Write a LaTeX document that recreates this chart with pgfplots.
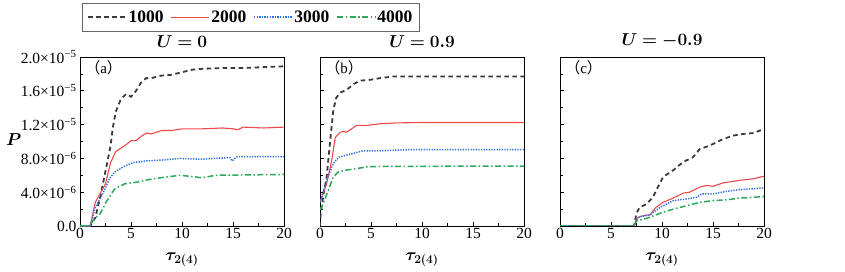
\documentclass[border=0pt]{standalone}
\usepackage{pgfplots}
\pgfplotsset{compat=1.18}
\usepackage{bm}
\usepackage{fontspec}
\setmainfont{Liberation Serif}
\newfontfamily\cjk{Noto Sans CJK SC}
\definecolor{cA}{HTML}{3A3A3A}
\definecolor{cB}{HTML}{F04848}
\definecolor{cC}{HTML}{2F6FE6}
\definecolor{cD}{HTML}{2EA85C}
\newcommand{\fs}{\fontsize{15.5}{17}\selectfont}
\newcommand{\fl}{\fontsize{17.5}{19}\selectfont}
\tikzset{plabel/.style={font=\fontsize{15}{17}\selectfont, anchor=north west, inner sep=1pt}}
\pgfplotsset{
  panel/.style={
    scale only axis, width=204pt, height=169pt,
    xmin=0, xmax=20, ymin=0, ymax=20,
    xtick={0,5,10,15,20}, minor x tick num=1,
    ytick={0,4,8,12,16,20}, minor y tick num=1,
    xtick pos=bottom, ytick pos=left, tick align=inside,
    major tick length=4pt, minor tick length=2.5pt,
    tick style={black, line width=0.6pt},
    axis line style={line width=0.7pt},
    tick label style={font=\fs},
    xticklabel style={yshift=1pt},
    /pgf/number format/assume math mode=true,
    title style={font=\fl, at={(0.5,1)}, anchor=south, yshift=0pt},
    xlabel={$\bm{\tau_{2(4)}}$},
    xlabel style={font=\fl, yshift=-7pt},
    anchor=south west,
  },
  s1/.style={cA, line width=1.8pt, dash pattern=on 4.5pt off 3.5pt},
  s2/.style={cB, line width=1.1pt},
  s3/.style={cC, line width=1.5pt, dash pattern=on 1.3pt off 1.3pt},
  s4/.style={cD, line width=1.5pt, dash pattern=on 6pt off 2.5pt on 1.5pt off 2.5pt},
}
\begin{document}
\begin{tikzpicture}[x=1pt,y=1pt]
\path[use as bounding box] (0,0) rectangle (845,272);
% (a)
\begin{axis}[panel, at={(80pt,46pt)}, clip=false,
  title={$\bm{U=0}$},
  yticklabels={0.0,4.0×10\textsuperscript{−6},8.0×10\textsuperscript{−6},1.2×10\textsuperscript{−5},1.6×10\textsuperscript{−5},2.0×10\textsuperscript{−5}},
  legend columns=4,
  legend image post style={xscale=2.2},
  legend style={at={(0.01,1.32)}, anchor=north west, draw=gray!80!black, font=\bfseries\fl,
    /tikz/every even column/.append style={column sep=5pt}, inner ysep=5.5pt, inner xsep=5pt},
]
\addplot[s1] coordinates {(0,0)(1,0)(1.5,1)(2,3.5)(2.5,6.5)(3,9.5)(3.2,11.5)(3.5,13.5)(4,15)(4.5,15.6)(5,15.3)(5.5,16)(6,17)(6.5,17.5)(7,17.5)(8,17.8)(9,17.9)(10,18.2)(11,18.5)(12,18.6)(14,18.7)(16,18.7)(18,18.8)(20,18.9)};
\addplot[s2] coordinates {(0,0)(1,0)(1.5,2.8)(2,3.9)(2.5,5.0)(3,7.5)(3.5,8.8)(4,9.2)(4.5,9.6)(5,10.1)(5.5,10.1)(6,10.6)(6.5,11.0)(7,10.9)(8,11.3)(9,11.3)(10,11.5)(12,11.5)(14,11.6)(15,11.5)(15.5,11.4)(16,11.7)(18,11.6)(20,11.7)};
\addplot[s3] coordinates {(0,0)(1,0)(1.5,2.2)(2.3,4.0)(2.9,5.6)(3.4,6.4)(4.4,7.1)(5.2,7.5)(6.5,7.7)(8,7.8)(9.8,8.0)(11.8,7.9)(14.7,8.1)(14.9,7.7)(15.4,8.2)(20,8.2)};
\addplot[s4] coordinates {(0,0)(1,0)(1.3,0.7)(2,1.5)(2.6,2.9)(3.4,4.4)(4.4,5.0)(5.6,5.2)(7.2,5.6)(9.8,6.0)(11.4,5.8)(11.9,5.7)(13.3,6.0)(20,6.1)};
\legend{1000,2000,3000,4000}
\node[plabel] at (rel axis cs:0.02,0.985) {{\cjk （}a{\cjk ）}};
\node[font=\fl] at (rel axis cs:-0.325,0.51) {$\bm{P}$};
\end{axis}
% (b)
\begin{axis}[panel, at={(320pt,46pt)}, title={$\bm{U=0.9}$}, yticklabels={}]
\addplot[s1] coordinates {(0,0)(0.07,1.5)(0.3,3.4)(0.65,5.8)(1.0,10.1)(1.3,13.7)(1.6,15.2)(2.0,15.8)(2.6,16.1)(3.3,16.8)(3.9,17.2)(4.9,17.3)(5.9,17.5)(7.2,17.7)(9.2,17.7)(20,17.7)};
\addplot[s2] coordinates {(0,2.8)(0.65,5.0)(1.15,7.8)(1.5,10.5)(2,11.1)(2.3,11.2)(2.6,11.1)(3.1,11.5)(3.6,11.9)(4.6,11.9)(5.9,12.1)(7.5,12.2)(10.1,12.25)(20,12.25)};
\addplot[s3] coordinates {(0,2.8)(0.65,5.4)(1.3,7.4)(1.8,8.1)(2.3,8.3)(3.3,8.6)(4.2,8.9)(5.9,8.9)(9.2,9.05)(20,9.05)};
\addplot[s4] coordinates {(0,1.9)(0.3,2.6)(0.8,4.2)(1.3,5.8)(1.8,6.4)(2.5,6.6)(3.6,6.8)(4.6,7.0)(5.9,7.05)(20,7.1)};
\node[plabel] at (rel axis cs:0.02,0.985) {{\cjk （}b{\cjk ）}};
\end{axis}
% (c)
\begin{axis}[panel, at={(560pt,46pt)}, title={$\bm{U=-0.9}$}, yticklabels={}]
\addplot[s1] coordinates {(0,0)(7.25,0)(7.5,1.5)(7.8,2.2)(8.5,2.6)(9.1,3.4)(10.1,5.8)(11.1,6.6)(12.1,7.6)(13.0,8.1)(13.7,9.1)(14.4,9.4)(15.0,9.7)(16.0,10.3)(17.0,10.7)(18.0,10.9)(19.0,11.0)(20,11.5)};
\addplot[s2] coordinates {(0,0)(7.25,0)(7.5,0.9)(7.8,1.1)(8.5,1.3)(8.8,1.3)(9.4,2.2)(10.1,2.8)(11.1,3.3)(12.1,3.9)(12.7,4.0)(13.7,4.6)(14.4,4.8)(15.0,4.7)(16.0,5.1)(17.6,5.4)(19.0,5.6)(20,5.9)};
\addplot[s3] coordinates {(0,0)(7.25,0)(7.5,0.7)(7.8,1.1)(8.8,1.3)(9.8,2.2)(11.1,3.0)(12.4,3.2)(13.4,3.4)(13.9,3.8)(15.0,3.8)(16.3,4.1)(17.6,4.3)(20,4.5)};
\addplot[s4] coordinates {(0,0)(7.25,0)(7.5,0.6)(8.5,0.9)(9.8,1.5)(11.1,2.0)(12.4,2.4)(13.7,2.8)(15.0,3.0)(16.3,3.1)(17.6,3.3)(19.0,3.4)(20,3.5)};
\node[plabel] at (rel axis cs:0.02,0.985) {{\cjk （}c{\cjk ）}};
\end{axis}
\end{tikzpicture}
\end{document}
